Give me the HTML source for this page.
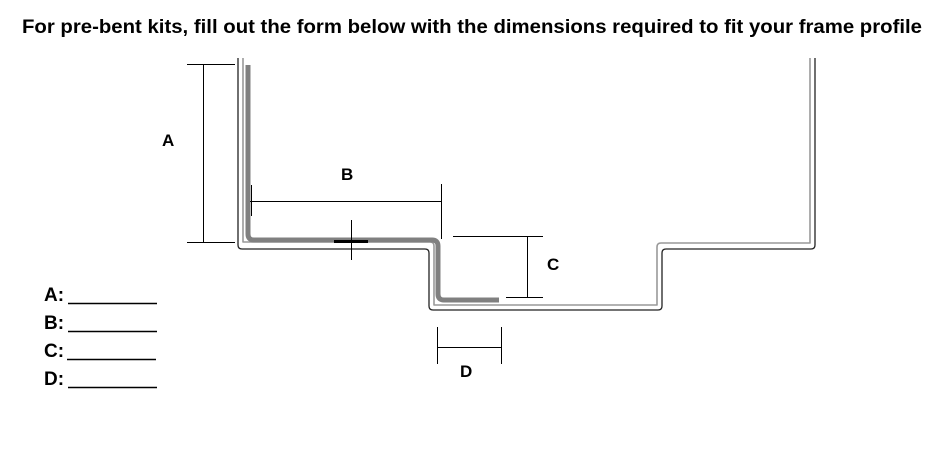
<!DOCTYPE html>
<html><head><meta charset="utf-8"><style>
html,body{margin:0;padding:0;background:#fff;}
svg{display:block;}
text{font-family:"Liberation Sans",sans-serif;font-weight:bold;fill:#000;}
</style></head><body>
<svg width="952" height="449" viewBox="0 0 952 449" xmlns="http://www.w3.org/2000/svg">
<text x="22" y="33" font-size="19" textLength="900" lengthAdjust="spacingAndGlyphs">For pre-bent kits, fill out the form below with the dimensions required to fit your frame profile</text>
<g fill="none" stroke-linejoin="round">
<path d="M238 58 V245 Q238 249 242 249 H425 Q429 249 429 253 V306 Q429 310 433 310 H658 Q662 310 662 306 V253 Q662 249 666 249 H811 Q815 249 815 245 V58" stroke="#222" stroke-width="1.3"/>
<path d="M243 58 V242 H430 Q434 242 434 246 V305 H657 V247 Q657 243 661 243 H810 V58" stroke="#999" stroke-width="1.6"/>
<path d="M248 65 V234 Q248 240 254 240 H432 Q438 240 438 246 V294 Q438 300 444 300 H499" stroke="#808080" stroke-width="5"/>
</g>
<g stroke="#000" stroke-width="1" fill="none">
<path d="M187 64.5 H235 M187 242.5 H235 M203.5 64 V242"/>
<path d="M250 201.5 H441 M251.5 185 V216 M441.5 184 V239"/>
<path d="M351.5 220 V260"/>
<path d="M334 241.5 H368" stroke-width="3"/>
<path d="M453 236.5 H543 M506 297.5 H543 M527.5 236 V297"/>
<path d="M437.5 327 V364 M501.5 327 V364 M437 347.5 H501"/>
<path d="M68 303.5 H157 M68 331.5 H157 M67 359.5 H156 M68 387.5 H157" stroke-width="1.5"/>
</g>
<text x="162" y="146" font-size="17">A</text>
<text x="341" y="180" font-size="17">B</text>
<text x="547" y="270" font-size="17">C</text>
<text x="460" y="377" font-size="17">D</text>
<text x="44" y="301" font-size="19">A:</text>
<text x="44" y="329" font-size="19">B:</text>
<text x="44" y="357" font-size="19">C:</text>
<text x="44" y="385" font-size="19">D:</text>
</svg>
</body></html>
